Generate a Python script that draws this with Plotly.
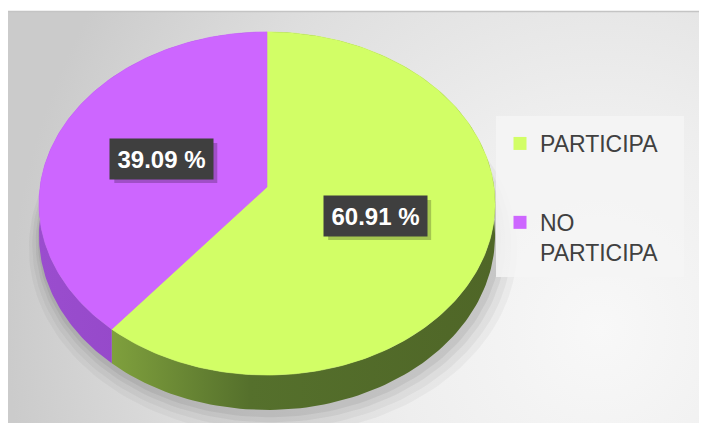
import numpy as np
import plotly.graph_objects as go

# ---------------- data ----------------
categories = ["PARTICIPA", "NO PARTICIPA"]
values = [60.91, 39.09]
legend_labels = ["PARTICIPA", "NO<br>PARTICIPA"]

top_colors = ["#D2FE66", "#CD66FF"]
side_scales = [
    [[0, "#7FA03D"], [0.36, "#55702C"], [1, "#4F6627"]],
    [[0, "#9A4DCE"], [1, "#8E42C2"]],
]

# ---------------- geometry (3D-looking pie, page-pixel space) ----------------
PAGE_W, PAGE_H = 707, 423
OFF = 8  # the page body margin
W, H = PAGE_W - OFF, PAGE_H - OFF
CX, CY, SX, SY, K, DEPTH = 267, 187, 227, 170, 0.096, 31.6


def proj(X, Y, z=0.0, scale=1.0, dx=0.0, dy=0.0):
    X = np.asarray(X, float) * scale
    Y = np.asarray(Y, float) * scale
    w = 1 - K * Y
    return CX + SX * X / w + dx, CY + SY * Y / w + DEPTH * z / w + dy


def px2paper(x, y):
    return (x - OFF) / W, 1 - (y - OFF) / H


total = float(sum(values))
bounds = np.concatenate([[0.0], np.cumsum(values) / total * 2 * np.pi])

fig = go.Figure()

# background panel with radial light
fig.add_trace(go.Scatter(
    x=[8, 1192, 1192, 8, 8], y=[-300, -300, 960, 960, -300],
    fill="toself", mode="lines", line=dict(width=0),
    fillgradient=dict(type="radial", colorscale=[[0, "#f8f8f8"], [0.35, "#eeeeee"], [0.7, "#dedede"], [1, "#cbcbcb"]]),
    hoverinfo="skip", showlegend=False))
fig.add_shape(type="rect", x0=0, x1=PAGE_W, y0=0, y1=11, fillcolor="white", line_width=0, layer="above")
fig.add_shape(type="line", x0=8, x1=PAGE_W, y0=11.5, y1=11.5, line=dict(color="#c4c4c4", width=1.5), layer="above")

# soft shadow under the pie
full = np.linspace(0, 2 * np.pi, 200)
for s, a, off in [(1.07, 0.035, 10), (1.05, 0.04, 8), (1.03, 0.05, 6), (1.015, 0.06, 4)]:
    sx, sy = proj(np.sin(full), -np.cos(full), 1, scale=s, dx=off * 0.6, dy=off)
    fig.add_trace(go.Scatter(x=sx, y=sy, fill="toself", mode="lines", line=dict(width=0),
                             fillcolor=f"rgba(0,0,0,{a})", hoverinfo="skip", showlegend=False))

# side walls
for i in range(len(values)):
    th = np.linspace(bounds[i], bounds[i + 1], 160)
    X, Y = np.sin(th), -np.cos(th)
    tx, ty = proj(X, Y, 0)
    bx, by = proj(X, Y, 1)
    px = np.concatenate([tx, bx[::-1], tx[:1]])
    py = np.concatenate([ty, by[::-1], ty[:1]])
    fig.add_trace(go.Scatter(x=px, y=py, fill="toself", mode="lines", line=dict(width=0),
                             fillgradient=dict(type="horizontal", colorscale=side_scales[i]),
                             hoverinfo="skip", showlegend=False))

# top faces
for i in range(len(values)):
    th = np.linspace(bounds[i], bounds[i + 1], 200)
    X = np.concatenate([[0], np.sin(th), [0]])
    Y = np.concatenate([[0], -np.cos(th), [0]])
    px, py = proj(X, Y, 0)
    fig.add_trace(go.Scatter(x=px, y=py, fill="toself", mode="lines",
                             line=dict(width=0.6, color=top_colors[i]), fillcolor=top_colors[i],
                             name=categories[i], hoverinfo="name", showlegend=False))

# legend box
fig.add_shape(type="rect", x0=496, x1=684, y0=116, y1=277,
              fillcolor="rgba(244,244,244,0.85)", line_width=0, layer="above")

# legend entries
for i in range(len(values)):
    fig.add_trace(go.Scatter(x=[None], y=[None], mode="markers",
                             marker=dict(symbol="square", size=13, color=top_colors[i]),
                             name=legend_labels[i], legendgroup=f"g{i}", showlegend=True))

# data labels
for i, v in enumerate(values):
    mid = (bounds[i] + bounds[i + 1]) / 2
    lx, ly = proj(0.5 * np.sin(mid), -0.5 * np.cos(mid), 0)
    lx, ly = float(lx), float(ly)
    fig.add_shape(type="rect", x0=lx - 51.5 + 4, x1=lx + 51.5 + 4, y0=ly - 20 + 4, y1=ly + 20 + 4,
                  fillcolor="rgba(0,0,0,0.22)", line_width=0, layer="above")
    fig.add_annotation(x=lx, y=ly, xref="x", yref="y", text=f"<b>{v:.2f} %</b>", showarrow=False,
                       font=dict(family="Liberation Sans, Arial", size=24, color="white"),
                       bgcolor="#3f3f3f", width=99, height=36, borderpad=2)

lgx, lgy = px2paper(500, 122)
fig.update_layout(
    width=W, height=H, margin=dict(l=0, r=0, t=0, b=0),
    paper_bgcolor="white", plot_bgcolor="white",
    xaxis=dict(range=[OFF, PAGE_W], visible=False, fixedrange=True),
    yaxis=dict(range=[PAGE_H, OFF], visible=False, fixedrange=True),
    legend=dict(x=lgx, y=lgy, xanchor="left", yanchor="top",
                bgcolor="rgba(0,0,0,0)", valign="top", tracegroupgap=46,
                font=dict(family="Liberation Sans, Arial", size=23, color="#404040")),
    showlegend=True,
)

fig.write_html("out.html")
